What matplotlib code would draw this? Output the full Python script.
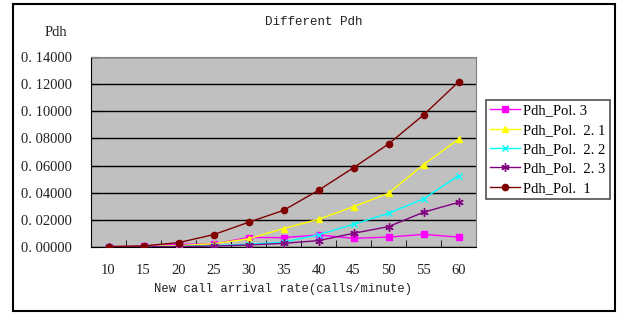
import matplotlib.pyplot as plt
import matplotlib.patches as patches
from matplotlib.ticker import FuncFormatter, FixedLocator
import numpy as np

# data
rates = [10, 15, 20, 25, 30, 35, 40, 45, 50, 55, 60]
pol3 = [0.0002, 0.0006, 0.0020, 0.0022, 0.0070, 0.0069, 0.0089, 0.0064, 0.0073, 0.0093, 0.0073]
pol21 = [0.0000, 0.0003, 0.0010, 0.0024, 0.0060, 0.0136, 0.0204, 0.0297, 0.0396, 0.0607, 0.0794]
pol22 = [0.0000, 0.0002, 0.0005, 0.0010, 0.0020, 0.0036, 0.0090, 0.0167, 0.0248, 0.0354, 0.0526]
pol23 = [0.0000, 0.0001, 0.0003, 0.0007, 0.0015, 0.0027, 0.0047, 0.0101, 0.0150, 0.0256, 0.0329]
pol1 = [0.0003, 0.0008, 0.0032, 0.0091, 0.0182, 0.0270, 0.0418, 0.0584, 0.0759, 0.0973, 0.1216]

labels = ["Pdh_Pol. 3", "Pdh_Pol.  2. 1", "Pdh_Pol.  2. 2", "Pdh_Pol.  2. 3", "Pdh_Pol.  1"]

serif = "Liberation Serif"
mono = "Liberation Mono"

fig = plt.figure(figsize=(6.19, 3.13), dpi=100)
ax = fig.add_axes([91/619, 1 - 247/313, 385/619, 190/313])
ax.set_facecolor("#C0C0C0")

x = np.arange(len(rates))
series = [
    (pol3, "#FF00FF", "s", 4),
    (pol21, "#FFFF00", "^", 5),
    (pol22, "#00FFFF", "x", 5),
    (pol23, "#800080", (6, 2, 0), 6),
    (pol1, "#800000", "o", 4.5),
]
handles = []
for (vals, col, mk, ms), lab in zip(series, labels):
    h, = ax.plot(x, vals, color=col, marker=mk, markersize=ms, lw=1,
                 markeredgewidth=1, label=lab, zorder=3)
    handles.append(h)

ax.set_xlim(-0.5, len(rates) - 0.5)
ax.set_ylim(0, 0.14)
ax.set_yticks(np.arange(0, 0.1401, 0.02))
ax.yaxis.set_major_formatter(FuncFormatter(lambda v, p: f"{v:.5f}".replace(".", ". ")))
ax.set_xticks(x)
ax.set_xticklabels([str(r) for r in rates])
ax.xaxis.set_minor_locator(FixedLocator(np.arange(-0.5, len(rates), 1)))
ax.tick_params(axis="x", which="major", length=0, pad=12)
ax.tick_params(axis="x", which="minor", direction="in", length=5, color="black")
ax.tick_params(axis="y", direction="in", length=5, pad=14)
for lbl in ax.get_xticklabels() + ax.get_yticklabels():
    lbl.set_fontfamily(serif)
    lbl.set_fontsize(10.5)
    lbl.set_color("#222222")

ax.grid(axis="y", color="black", lw=1)
ax.set_axisbelow(True)
ax.spines["top"].set_color("#808080")
ax.spines["right"].set_color("#808080")
ax.spines["left"].set_color("black")
ax.spines["bottom"].set_color("black")

fig.text(314/619, 1 - 22/313, "Different Pdh", ha="center", va="center",
         family=mono, fontsize=9, color="#222222")
fig.text(56/619, 1 - 33/313, "Pdh", ha="center", va="center",
         family=serif, fontsize=10.5, color="#222222")
fig.text(283/619, 1 - 289/313, "New call arrival rate(calls/minute)", ha="center",
         va="center", family=mono, fontsize=8.8, color="#222222")

leg = fig.legend(handles=handles, loc="upper left",
                 bbox_to_anchor=(486/619, 1 - 100/313), borderaxespad=0,
                 frameon=True, fancybox=False, edgecolor="#222222",
                 handlelength=2.0, labelspacing=0.42, borderpad=0.3,
                 handletextpad=0.25, prop={"family": serif, "size": 10.5})
leg.get_frame().set_linewidth(1.2)

fig.patches.append(patches.Rectangle((13/619, 2/313), 602/619, 307/313,
                                     transform=fig.transFigure, fill=False,
                                     edgecolor="black", lw=1.5))

fig.savefig("out.png", dpi=100)
